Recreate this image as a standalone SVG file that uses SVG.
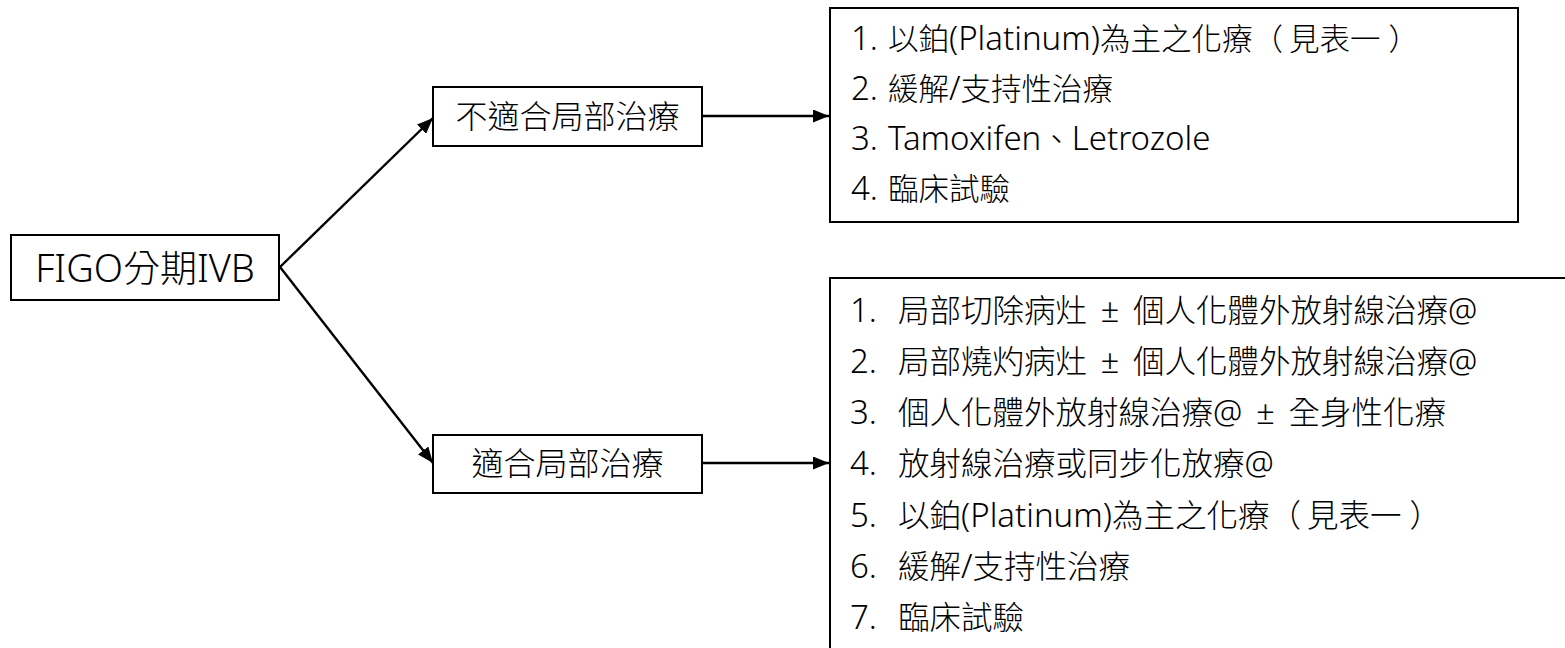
<svg xmlns="http://www.w3.org/2000/svg" width="1565" height="648" viewBox="0 0 1565 648">
<style>
  .box { fill: #ffffff; stroke: #000000; stroke-width: 2; }
  .conn { stroke: #000000; stroke-width: 2.4; fill: none; }
  text { fill: #000000; font-family: "Noto Sans CJK TC", "Noto Sans", sans-serif; font-weight: 300; }
  .l { font-family: "Noto Sans", "Noto Sans CJK TC", sans-serif; }
  .lt { font-size: 30.5px; }
  .lt .l { font-size: 33px; }
  .lb { font-size: 31.5px; }
  .lb .l { font-size: 33px; }
  .mid { font-size: 32px; text-anchor: middle; }
  .root { font-size: 37px; text-anchor: middle; }
  .root .l { font-size: 38px; }
</style>
<defs>
  <marker id="arr" markerUnits="userSpaceOnUse" markerWidth="17" markerHeight="13" refX="16" refY="6.5" orient="auto">
    <path d="M0,0 L16,6.5 L0,13 Z" fill="#000000"/>
  </marker>
</defs>
<rect width="1565" height="648" fill="#ffffff"/>

<g id="connectors">
  <line class="conn" x1="280" y1="267" x2="433" y2="118" marker-end="url(#arr)"/>
  <line class="conn" x1="280" y1="267" x2="433" y2="463" marker-end="url(#arr)"/>
  <line class="conn" x1="702" y1="116" x2="829" y2="116" marker-end="url(#arr)"/>
  <line class="conn" x1="702" y1="463" x2="829" y2="463" marker-end="url(#arr)"/>
</g>

<g id="node-root">
  <rect class="box" x="11" y="235" width="268" height="65"/>
  <text class="root" x="145" y="282"><tspan class="l">FIGO</tspan>分期<tspan class="l">IVB</tspan></text>
</g>

<g id="node-unsuitable">
  <rect class="box" x="433" y="87" width="269" height="59"/>
  <text class="mid" x="567.5" y="128">不適合局部治療</text>
</g>

<g id="node-suitable">
  <rect class="box" x="433" y="435" width="269" height="58"/>
  <text class="mid" x="567.5" y="475">適合局部治療</text>
</g>

<g id="node-list-top">
  <rect class="box" x="830" y="8" width="688" height="214"/>
  <text class="lt" y="50"><tspan class="l" x="851">1.</tspan><tspan x="888">以鉑</tspan><tspan class="l">(Platinum)</tspan><tspan>為主之化療（</tspan><tspan dx="6">見表一</tspan><tspan dx="8">）</tspan></text>
  <text class="lt" y="100"><tspan class="l" x="851">2.</tspan><tspan x="888">緩解</tspan><tspan class="l">/</tspan><tspan>支持性治療</tspan></text>
  <text class="lt" y="150"><tspan class="l" x="851">3.</tspan><tspan class="l" x="888">Tamoxifen</tspan><tspan>、</tspan><tspan class="l">Letrozole</tspan></text>
  <text class="lt" y="200"><tspan class="l" x="851">4.</tspan><tspan x="888">臨床試驗</tspan></text>
</g>

<g id="node-list-bottom">
  <rect class="box" x="830" y="278" width="800" height="420"/>
  <text class="lb" y="322"><tspan class="l" x="850">1.</tspan><tspan x="898">局部切除病灶</tspan><tspan class="l" dx="5"> ± </tspan><tspan dx="5">個人化體外放射線治療</tspan><tspan class="l">@</tspan></text>
  <text class="lb" y="373"><tspan class="l" x="850">2.</tspan><tspan x="898">局部燒灼病灶</tspan><tspan class="l" dx="5"> ± </tspan><tspan dx="5">個人化體外放射線治療</tspan><tspan class="l">@</tspan></text>
  <text class="lb" y="424"><tspan class="l" x="850">3.</tspan><tspan x="898">個人化體外放射線治療</tspan><tspan class="l">@</tspan><tspan class="l" dx="5"> ± </tspan><tspan dx="5">全身性化療</tspan></text>
  <text class="lb" y="475"><tspan class="l" x="850">4.</tspan><tspan x="898">放射線治療或同步化放療</tspan><tspan class="l">@</tspan></text>
  <text class="lb" y="527"><tspan class="l" x="850">5.</tspan><tspan x="898">以鉑</tspan><tspan class="l">(Platinum)</tspan><tspan>為主之化療（</tspan><tspan dx="6">見表一</tspan><tspan dx="8">）</tspan></text>
  <text class="lb" y="578"><tspan class="l" x="850">6.</tspan><tspan x="898">緩解</tspan><tspan class="l">/</tspan><tspan>支持性治療</tspan></text>
  <text class="lb" y="629"><tspan class="l" x="850">7.</tspan><tspan x="898">臨床試驗</tspan></text>
</g>
</svg>
